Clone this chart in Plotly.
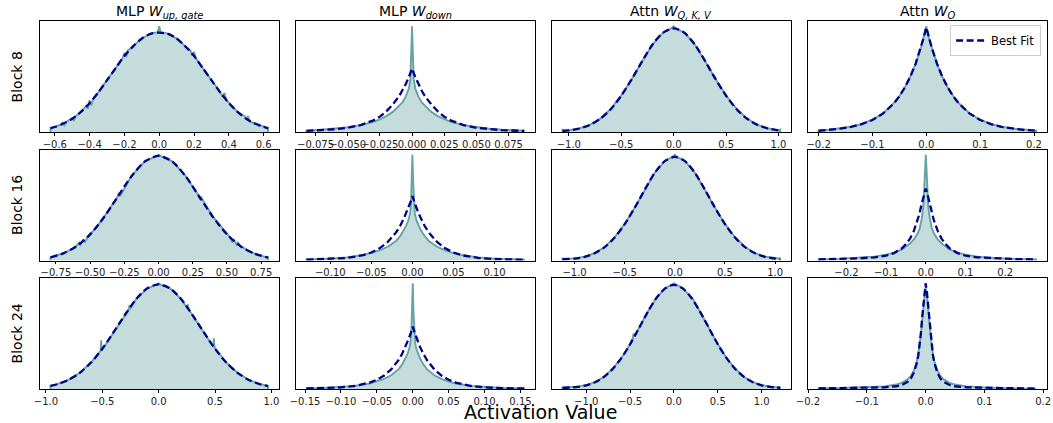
import plotly.graph_objects as go

# ---------------- data ----------------
row_labels = ["Block 8", "Block 16", "Block 24"]
col_titles = ["MLP <i>W</i><sub><i>up, gate</i></sub>", "MLP <i>W</i><sub><i>down</i></sub>",
              "Attn <i>W</i><sub><i>Q, K, V</i></sub>", "Attn <i>W</i><sub><i>O</i></sub>"]
x_label = "Activation Value"
legend_label = "Best Fit"

# Block 8 ----------------------------------------------------------------
b8_upgate_fit_x = [-0.625, -0.6, -0.55, -0.5, -0.45, -0.4, -0.35, -0.3, -0.25, -0.2, -0.15, -0.1, -0.05, 0,
                   0.05, 0.1, 0.15, 0.2, 0.25, 0.3, 0.35, 0.4, 0.45, 0.5, 0.55, 0.6, 0.625]
b8_upgate_fit = [0.035, 0.047, 0.08, 0.125, 0.19, 0.275, 0.375, 0.49, 0.605, 0.72, 0.81, 0.885, 0.928, 0.94,
                 0.928, 0.885, 0.81, 0.72, 0.605, 0.49, 0.375, 0.275, 0.19, 0.125, 0.08, 0.047, 0.035]
b8_upgate_hist_x = [-0.625, -0.6, -0.565, -0.555, -0.545, -0.535, -0.5, -0.49, -0.48, -0.45, -0.42, -0.41, -0.4,
                    -0.39, -0.38, -0.35, -0.3, -0.25, -0.21, -0.2, -0.19, -0.18, -0.15, -0.1, -0.05, -0.008, 0,
                    0.008, 0.05, 0.1, 0.15, 0.18, 0.19, 0.2, 0.21, 0.25, 0.3, 0.35, 0.365, 0.375, 0.385, 0.42,
                    0.45, 0.49, 0.5, 0.51, 0.52, 0.55, 0.6, 0.625]
b8_upgate_hist = [0.04, 0.05, 0.07, 0.09, 0.065, 0.095, 0.13, 0.11, 0.15, 0.19, 0.245, 0.22, 0.3,
                  0.25, 0.31, 0.375, 0.49, 0.605, 0.70, 0.75, 0.71, 0.77, 0.81, 0.885, 0.93, 0.945, 1.0,
                  0.945, 0.93, 0.885, 0.81, 0.77, 0.72, 0.76, 0.70, 0.605, 0.49, 0.38, 0.33, 0.37, 0.30, 0.245,
                  0.19, 0.15, 0.12, 0.15, 0.10, 0.08, 0.05, 0.04]
b8_upgate_ticks = [-0.6, -0.4, -0.2, 0.0, 0.2, 0.4, 0.6]

b8_down_fit_x = [-0.082, -0.07, -0.06, -0.05, -0.04, -0.03, -0.025, -0.02, -0.015, -0.01, -0.0075, -0.005, -0.0025,
                 0, 0.0025, 0.005, 0.0075, 0.01, 0.015, 0.02, 0.025, 0.03, 0.04, 0.05, 0.06, 0.07, 0.087]
b8_down_fit = [0.011, 0.017, 0.026, 0.04, 0.065, 0.11, 0.145, 0.195, 0.26, 0.34, 0.39, 0.45, 0.52,
               0.60, 0.52, 0.45, 0.39, 0.34, 0.26, 0.195, 0.145, 0.11, 0.065, 0.04, 0.026, 0.017, 0.01]
b8_down_hist_x = [-0.082, -0.07, -0.06, -0.05, -0.04, -0.03, -0.025, -0.02, -0.015, -0.01, -0.0075, -0.005, -0.0025,
                  -0.0013, -0.0006, 0, 0.0006, 0.0013, 0.0025, 0.005, 0.0075, 0.01, 0.015, 0.02, 0.025, 0.03,
                  0.04, 0.05, 0.06, 0.07, 0.087]
b8_down_hist = [0.013, 0.021, 0.031, 0.045, 0.065, 0.095, 0.12, 0.15, 0.19, 0.25, 0.28, 0.335, 0.41,
                0.5, 0.75, 1.0, 0.75, 0.5, 0.41, 0.335, 0.28, 0.25, 0.19, 0.15, 0.12, 0.095,
                0.065, 0.045, 0.031, 0.021, 0.012]
b8_down_ticks = [-0.075, -0.05, -0.025, 0.0, 0.025, 0.05, 0.075]

b8_qkv_fit_x = [-1.06, -1.0, -0.9, -0.8, -0.7, -0.6, -0.5, -0.4, -0.3, -0.2, -0.1, 0, 0.1, 0.2, 0.3, 0.4, 0.5, 0.6,
                0.7, 0.8, 0.9, 1.015]
b8_qkv_fit = [0.011, 0.015, 0.033, 0.067, 0.125, 0.216, 0.343, 0.5, 0.67, 0.83, 0.94, 0.98, 0.94, 0.83, 0.67, 0.5,
              0.343, 0.216, 0.125, 0.067, 0.033, 0.014]
b8_qkv_hist_x = [-1.06, -1.04, -1.0, -0.9, -0.8, -0.7, -0.6, -0.5, -0.4, -0.3, -0.2, -0.1, -0.03, 0, 0.03, 0.1, 0.2,
                 0.3, 0.4, 0.5, 0.6, 0.7, 0.8, 0.9, 1.0, 1.015]
b8_qkv_hist = [0.02, 0.014, 0.016, 0.034, 0.068, 0.126, 0.218, 0.345, 0.5, 0.67, 0.83, 0.942, 0.975, 1.0, 0.975,
               0.942, 0.83, 0.67, 0.5, 0.345, 0.218, 0.126, 0.068, 0.034, 0.016, 0.022]
b8_qkv_ticks = [-1.0, -0.5, 0.0, 0.5, 1.0]

b8_o_fit_x = [-0.2, -0.18, -0.16, -0.14, -0.12, -0.1, -0.08, -0.06, -0.05, -0.04, -0.03, -0.02, -0.01, -0.005, 0,
              0.005, 0.01, 0.02, 0.03, 0.04, 0.05, 0.06, 0.08, 0.1, 0.12, 0.14, 0.16, 0.18, 0.204]
b8_o_fit = [0.012, 0.02, 0.031, 0.048, 0.074, 0.114, 0.176, 0.272, 0.337, 0.42, 0.52, 0.645, 0.80, 0.89, 0.99,
            0.89, 0.80, 0.645, 0.52, 0.42, 0.337, 0.272, 0.176, 0.114, 0.074, 0.048, 0.031, 0.02, 0.012]
b8_o_hist_x = b8_o_fit_x
b8_o_hist = [0.013, 0.022, 0.033, 0.05, 0.076, 0.116, 0.178, 0.275, 0.34, 0.42, 0.52, 0.64, 0.795, 0.885, 1.0,
             0.885, 0.795, 0.64, 0.52, 0.42, 0.34, 0.275, 0.178, 0.116, 0.076, 0.05, 0.033, 0.022, 0.013]
b8_o_ticks = [-0.2, -0.1, 0.0, 0.1, 0.2]

# Block 16 ---------------------------------------------------------------
b16_upgate_fit_x = [-0.79, -0.7, -0.6, -0.5, -0.4, -0.3, -0.2, -0.1, 0, 0.1, 0.2, 0.3, 0.4, 0.5, 0.6, 0.7, 0.8]
b16_upgate_fit = [0.03, 0.065, 0.134, 0.247, 0.407, 0.60, 0.793, 0.936, 0.99, 0.936, 0.793, 0.60, 0.407, 0.247,
                  0.134, 0.065, 0.028]
b16_upgate_hist_x = [-0.79, -0.7, -0.63, -0.6, -0.58, -0.57, -0.55, -0.54, -0.52, -0.5, -0.45, -0.4, -0.3, -0.29,
                     -0.28, -0.2, -0.1, -0.02, 0, 0.02, 0.1, 0.2, 0.29, 0.3, 0.31, 0.4, 0.5, 0.52, 0.54, 0.55,
                     0.57, 0.58, 0.6, 0.7, 0.795, 0.8]
b16_upgate_hist = [0.032, 0.066, 0.11, 0.14, 0.17, 0.15, 0.20, 0.17, 0.22, 0.25, 0.32, 0.41, 0.60, 0.64,
                   0.61, 0.795, 0.938, 0.985, 1.0, 0.985, 0.938, 0.795, 0.62, 0.585, 0.60, 0.41, 0.25, 0.225, 0.17,
                   0.20, 0.15, 0.17, 0.135, 0.066, 0.028, 0.03]
b16_upgate_ticks = [-0.75, -0.5, -0.25, 0.0, 0.25, 0.5, 0.75]

b16_down_fit_x = [-0.129, -0.1, -0.08, -0.06, -0.05, -0.04, -0.03, -0.02, -0.015, -0.01, -0.005, -0.0025, 0, 0.0025,
                  0.005, 0.01, 0.015, 0.02, 0.03, 0.04, 0.05, 0.06, 0.08, 0.1, 0.136]
b16_down_fit = [0.008, 0.014, 0.024, 0.05, 0.076, 0.115, 0.175, 0.265, 0.326, 0.405, 0.496, 0.55, 0.61, 0.55,
                0.496, 0.405, 0.326, 0.265, 0.175, 0.115, 0.076, 0.05, 0.024, 0.014, 0.007]
b16_down_hist_x = [-0.129, -0.1, -0.08, -0.06, -0.05, -0.04, -0.03, -0.02, -0.015, -0.01, -0.0075, -0.005, -0.003,
                   -0.0018, -0.0009, 0, 0.0009, 0.0018, 0.003, 0.005, 0.0075, 0.01, 0.015, 0.02, 0.03, 0.04, 0.05,
                   0.06, 0.08, 0.1, 0.136]
b16_down_hist = [0.01, 0.018, 0.03, 0.052, 0.07, 0.095, 0.13, 0.185, 0.23, 0.29, 0.33, 0.38, 0.44, 0.52, 0.75, 1.0,
                 0.75, 0.52, 0.44, 0.38, 0.33, 0.29, 0.23, 0.185, 0.13, 0.095, 0.07, 0.052, 0.03, 0.018, 0.009]
b16_down_ticks = [-0.1, -0.05, 0.0, 0.05, 0.1]

b16_qkv_fit_x = [-1.12, -1.0, -0.9, -0.8, -0.7, -0.6, -0.5, -0.4, -0.3, -0.2, -0.1, 0, 0.1, 0.2, 0.3, 0.4, 0.5, 0.6,
                 0.7, 0.8, 0.9, 1.0, 1.05]
b16_qkv_fit = [0.012, 0.018, 0.034, 0.068, 0.126, 0.217, 0.344, 0.5, 0.67, 0.83, 0.94, 0.98, 0.94, 0.83, 0.67, 0.5,
               0.344, 0.217, 0.126, 0.068, 0.034, 0.018, 0.014]
b16_qkv_hist_x = [-1.12, -1.0, -0.9, -0.8, -0.7, -0.6, -0.5, -0.4, -0.3, -0.2, -0.1, -0.03, 0, 0.03, 0.1, 0.2, 0.3,
                  0.4, 0.5, 0.6, 0.7, 0.8, 0.9, 1.0, 1.05]
b16_qkv_hist = [0.018, 0.02, 0.036, 0.07, 0.128, 0.22, 0.346, 0.5, 0.67, 0.83, 0.942, 0.975, 1.0, 0.975, 0.942,
                0.83, 0.67, 0.5, 0.346, 0.22, 0.128, 0.07, 0.036, 0.02, 0.018]
b16_qkv_ticks = [-1.0, -0.5, 0.0, 0.5, 1.0]

b16_o_fit_x = [-0.27, -0.22, -0.17, -0.13, -0.1, -0.08, -0.06, -0.05, -0.04, -0.03, -0.02, -0.016, -0.012, -0.008,
               -0.004, 0, 0.004, 0.008, 0.012, 0.016, 0.02, 0.03, 0.04, 0.05, 0.06, 0.08, 0.1, 0.13, 0.17, 0.22, 0.278]
b16_o_fit = [0.011, 0.014, 0.02, 0.03, 0.045, 0.07, 0.115, 0.155, 0.205, 0.28, 0.385, 0.44, 0.51, 0.57, 0.63, 0.68,
             0.63, 0.57, 0.51, 0.44, 0.385, 0.28, 0.205, 0.155, 0.115, 0.07, 0.045, 0.03, 0.02, 0.014, 0.011]
b16_o_hist_x = [-0.27, -0.22, -0.17, -0.13, -0.1, -0.08, -0.06, -0.05, -0.04, -0.03, -0.02, -0.015, -0.01, -0.006,
                -0.004, -0.002, 0, 0.002, 0.004, 0.006, 0.01, 0.015, 0.02, 0.03, 0.04, 0.05, 0.06, 0.08, 0.1, 0.13,
                0.17, 0.22, 0.278]
b16_o_hist = [0.011, 0.015, 0.024, 0.037, 0.055, 0.075, 0.105, 0.13, 0.16, 0.2, 0.26, 0.31, 0.4, 0.52, 0.65, 0.85,
              1.0, 0.85, 0.65, 0.52, 0.4, 0.31, 0.26, 0.2, 0.16, 0.13, 0.105, 0.075, 0.055, 0.037, 0.024, 0.015, 0.011]
b16_o_ticks = [-0.2, -0.1, 0.0, 0.1, 0.2]

# Block 24 ---------------------------------------------------------------
b24_upgate_fit_x = [-0.96, -0.9, -0.8, -0.7, -0.6, -0.5, -0.4, -0.3, -0.2, -0.1, 0, 0.1, 0.2, 0.3, 0.4, 0.5, 0.6,
                    0.7, 0.8, 0.9, 0.97]
b24_upgate_fit = [0.029, 0.045, 0.086, 0.153, 0.25, 0.381, 0.537, 0.70, 0.85, 0.953, 0.99, 0.953, 0.85, 0.70, 0.537,
                  0.381, 0.25, 0.153, 0.086, 0.045, 0.027]
b24_upgate_hist_x = [-0.96, -0.9, -0.8, -0.7, -0.6, -0.515, -0.51, -0.505, -0.4, -0.265, -0.26, -0.255, -0.2, -0.1,
                     -0.02, 0, 0.02, 0.1, 0.2, 0.255, 0.26, 0.265, 0.4, 0.485, 0.49, 0.495, 0.6, 0.7, 0.8, 0.9, 0.97]
b24_upgate_hist = [0.031, 0.046, 0.087, 0.154, 0.25, 0.36, 0.46, 0.365, 0.537, 0.75, 0.79, 0.755, 0.85, 0.953,
                   0.985, 1.0, 0.985, 0.953, 0.85, 0.765, 0.80, 0.755, 0.537, 0.40, 0.48, 0.395, 0.25, 0.154, 0.087,
                   0.046, 0.029]
b24_upgate_ticks = [-1.0, -0.5, 0.0, 0.5, 1.0]

b24_down_fit_x = [-0.148, -0.125, -0.1, -0.08, -0.06, -0.05, -0.04, -0.03, -0.02, -0.015, -0.01, -0.005, -0.0025, 0,
                  0.0025, 0.005, 0.01, 0.015, 0.02, 0.03, 0.04, 0.05, 0.06, 0.08, 0.1, 0.125, 0.155]
b24_down_fit = [0.005, 0.008, 0.015, 0.03, 0.061, 0.088, 0.127, 0.186, 0.272, 0.33, 0.40, 0.486, 0.536, 0.59,
                0.536, 0.486, 0.40, 0.33, 0.272, 0.186, 0.127, 0.088, 0.061, 0.03, 0.015, 0.008, 0.005]
b24_down_hist_x = [-0.148, -0.125, -0.1, -0.08, -0.06, -0.05, -0.04, -0.03, -0.02, -0.015, -0.01, -0.0075, -0.005,
                   -0.0035, -0.002, -0.001, 0, 0.001, 0.002, 0.0035, 0.005, 0.0075, 0.01, 0.015, 0.02, 0.03, 0.04,
                   0.05, 0.06, 0.08, 0.1, 0.125, 0.155]
b24_down_hist = [0.006, 0.01, 0.018, 0.03, 0.052, 0.07, 0.095, 0.13, 0.185, 0.23, 0.29, 0.33, 0.38, 0.43, 0.52, 0.72,
                 1.0, 0.72, 0.52, 0.43, 0.38, 0.33, 0.29, 0.23, 0.185, 0.13, 0.095, 0.07, 0.052, 0.03, 0.018, 0.01,
                 0.006]
b24_down_ticks = [-0.15, -0.1, -0.05, 0.0, 0.05, 0.1, 0.15]

b24_qkv_fit_x = [-1.27, -1.1, -1.0, -0.9, -0.8, -0.7, -0.6, -0.5, -0.4, -0.3, -0.2, -0.1, 0, 0.1, 0.2, 0.3, 0.4, 0.5,
                 0.6, 0.7, 0.8, 0.9, 1.0, 1.1, 1.21]
b24_qkv_fit = [0.011, 0.02, 0.035, 0.064, 0.113, 0.188, 0.292, 0.423, 0.574, 0.727, 0.861, 0.952, 0.985, 0.952,
               0.861, 0.727, 0.574, 0.423, 0.292, 0.188, 0.113, 0.064, 0.035, 0.02, 0.012]
b24_qkv_hist_x = [-1.27, -1.1, -1.0, -0.9, -0.8, -0.7, -0.6, -0.5, -0.47, -0.46, -0.45, -0.4, -0.3, -0.2, -0.1,
                  -0.02, 0, 0.02, 0.1, 0.2, 0.21, 0.3, 0.4, 0.5, 0.6, 0.7, 0.8, 0.9, 1.0, 1.1, 1.21]
b24_qkv_hist = [0.014, 0.022, 0.036, 0.065, 0.114, 0.19, 0.293, 0.424, 0.475, 0.525, 0.50, 0.575, 0.728, 0.862,
                0.953, 0.99, 1.0, 0.99, 0.953, 0.865, 0.86, 0.728, 0.575, 0.424, 0.293, 0.19, 0.114, 0.065, 0.036,
                0.021, 0.014]
b24_qkv_ticks = [-1.0, -0.5, 0.0, 0.5, 1.0]

b24_o_fit_x = [-0.182, -0.14, -0.1, -0.07, -0.05, -0.04, -0.03, -0.025, -0.02, -0.015, -0.0125, -0.01, -0.008,
               -0.006, -0.004, -0.002, 0, 0.002, 0.004, 0.006, 0.008, 0.01, 0.0125, 0.015, 0.02, 0.025, 0.03, 0.04,
               0.05, 0.07, 0.1, 0.14, 0.188]
b24_o_fit = [0.006, 0.008, 0.011, 0.016, 0.026, 0.04, 0.07, 0.1, 0.155, 0.245, 0.315, 0.42, 0.53, 0.665, 0.8, 0.93,
             1.0, 0.93, 0.8, 0.665, 0.53, 0.42, 0.315, 0.245, 0.155, 0.1, 0.07, 0.04, 0.026, 0.016, 0.011, 0.008,
             0.006]
b24_o_hist_x = b24_o_fit_x
b24_o_hist = [0.006, 0.009, 0.015, 0.025, 0.042, 0.06, 0.095, 0.125, 0.175, 0.26, 0.33, 0.42, 0.52, 0.64, 0.78, 0.9,
              0.97, 0.9, 0.78, 0.64, 0.52, 0.42, 0.33, 0.26, 0.175, 0.125, 0.095, 0.06, 0.042, 0.025, 0.015, 0.009,
              0.006]
b24_o_ticks = [-0.2, -0.1, 0.0, 0.1, 0.2]

# ---------------- panel table built from the arrays ----------------
panels = [
    (0, 0, b8_upgate_hist_x, b8_upgate_hist, b8_upgate_fit_x, b8_upgate_fit, b8_upgate_ticks, ".1f"),
    (0, 1, b8_down_hist_x, b8_down_hist, b8_down_fit_x, b8_down_fit, b8_down_ticks, ".3f"),
    (0, 2, b8_qkv_hist_x, b8_qkv_hist, b8_qkv_fit_x, b8_qkv_fit, b8_qkv_ticks, ".1f"),
    (0, 3, b8_o_hist_x, b8_o_hist, b8_o_fit_x, b8_o_fit, b8_o_ticks, ".1f"),
    (1, 0, b16_upgate_hist_x, b16_upgate_hist, b16_upgate_fit_x, b16_upgate_fit, b16_upgate_ticks, ".2f"),
    (1, 1, b16_down_hist_x, b16_down_hist, b16_down_fit_x, b16_down_fit, b16_down_ticks, ".2f"),
    (1, 2, b16_qkv_hist_x, b16_qkv_hist, b16_qkv_fit_x, b16_qkv_fit, b16_qkv_ticks, ".1f"),
    (1, 3, b16_o_hist_x, b16_o_hist, b16_o_fit_x, b16_o_fit, b16_o_ticks, ".1f"),
    (2, 0, b24_upgate_hist_x, b24_upgate_hist, b24_upgate_fit_x, b24_upgate_fit, b24_upgate_ticks, ".1f"),
    (2, 1, b24_down_hist_x, b24_down_hist, b24_down_fit_x, b24_down_fit, b24_down_ticks, ".2f"),
    (2, 2, b24_qkv_hist_x, b24_qkv_hist, b24_qkv_fit_x, b24_qkv_fit, b24_qkv_ticks, ".1f"),
    (2, 3, b24_o_hist_x, b24_o_hist, b24_o_fit_x, b24_o_fit, b24_o_ticks, ".1f"),
]

# ---------------- layout geometry (pixels) ----------------
W, H = 1053, 423
col_px = [(28, 271), (288, 531), (548, 791), (808, 1051)]
row_px = [(21, 132), (149.5, 260.5), (278, 389)]

FONT = "DejaVu Sans"
HIST_FILL = "rgba(95,158,160,0.36)"
HIST_LINE = "rgba(95,158,160,0.95)"
FIT_COLOR = "#00008b"

fig = go.Figure()
layout = {}
for (r, c, hx, hy, fx, fy, ticks, fmt) in panels:
    k = r * 4 + c + 1
    xa = "x" if k == 1 else f"x{k}"
    ya = "y" if k == 1 else f"y{k}"
    fig.add_trace(go.Scatter(
        x=[hx[0]] + list(hx) + [hx[-1]], y=[0] + list(hy) + [0],
        xaxis=xa, yaxis=ya, mode="lines", fill="tozeroy", fillcolor=HIST_FILL,
        line=dict(color=HIST_LINE, width=1.9), showlegend=False, hoverinfo="skip"))
    fig.add_trace(go.Scatter(
        x=fx, y=fy, xaxis=xa, yaxis=ya, mode="lines", name=legend_label,
        line=dict(color=FIT_COLOR, width=2.3, dash="7px,3.5px",
                  shape="spline" if c in (0, 2) else "linear", smoothing=0.8),
        showlegend=(k == 4), hoverinfo="skip"))
    xmin, xmax = min(hx), max(hx)
    span = xmax - xmin
    ymax = max(max(hy), max(fy)) * 1.05
    x0, x1 = col_px[c]
    t, b = row_px[r]
    xkey = "xaxis" if k == 1 else f"xaxis{k}"
    ykey = "yaxis" if k == 1 else f"yaxis{k}"
    layout[xkey] = dict(domain=[x0 / W, x1 / W], anchor=ya,
                        range=[xmin - 0.05 * span, xmax + 0.05 * span],
                        tickmode="array", tickvals=ticks, tickformat=fmt, tickangle=0,
                        ticklabeloverflow="allow",
                        ticks="outside", ticklen=2.5, tickwidth=0.8, tickcolor="black",
                        showline=True, linecolor="black", linewidth=1, mirror=True,
                        showgrid=False, zeroline=False,
                        tickfont=dict(family=FONT, size=10, color="#222"))
    layout[ykey] = dict(domain=[1 - b / H, 1 - t / H], anchor=xa, range=[0, ymax],
                        showticklabels=False, ticks="", showline=True, linecolor="black",
                        linewidth=1, mirror=True, showgrid=False, zeroline=False)

annotations = []
for c, title in enumerate(col_titles):
    x0, x1 = col_px[c]
    annotations.append(dict(text=title, x=(x0 + x1) / 2 / W, y=1 - 12 / H, xref="paper", yref="paper",
                            xanchor="center", yanchor="middle", showarrow=False,
                            font=dict(family=FONT, size=14, color="black")))
for r, lab in enumerate(row_labels):
    t, b = row_px[r]
    annotations.append(dict(text=lab, x=5 / W, y=1 - (t + b) / 2 / H, xref="paper", yref="paper",
                            xanchor="center", yanchor="middle", textangle=-90, showarrow=False,
                            font=dict(family=FONT, size=14, color="black")))
annotations.append(dict(text=x_label, x=537 / W, y=1 - 412 / H, xref="paper", yref="paper",
                        xanchor="center", yanchor="middle", showarrow=False,
                        font=dict(family=FONT, size=19, color="black")))

fig.update_layout(
    width=W, height=H, margin=dict(l=0, r=0, t=0, b=0), autosize=False,
    paper_bgcolor="white", plot_bgcolor="white",
    annotations=annotations,
    legend=dict(x=1045 / W, y=1 - 25 / H, xanchor="right", yanchor="top",
                bgcolor="rgba(255,255,255,0.8)", bordercolor="#cccccc", borderwidth=1,
                font=dict(family=FONT, size=11.5, color="black")),
    **layout)

fig.write_html("out.html", config={"displayModeBar": False},
               post_script="document.body.style.margin='0';document.body.style.padding='0';"
                           "document.body.style.overflow='hidden';")
